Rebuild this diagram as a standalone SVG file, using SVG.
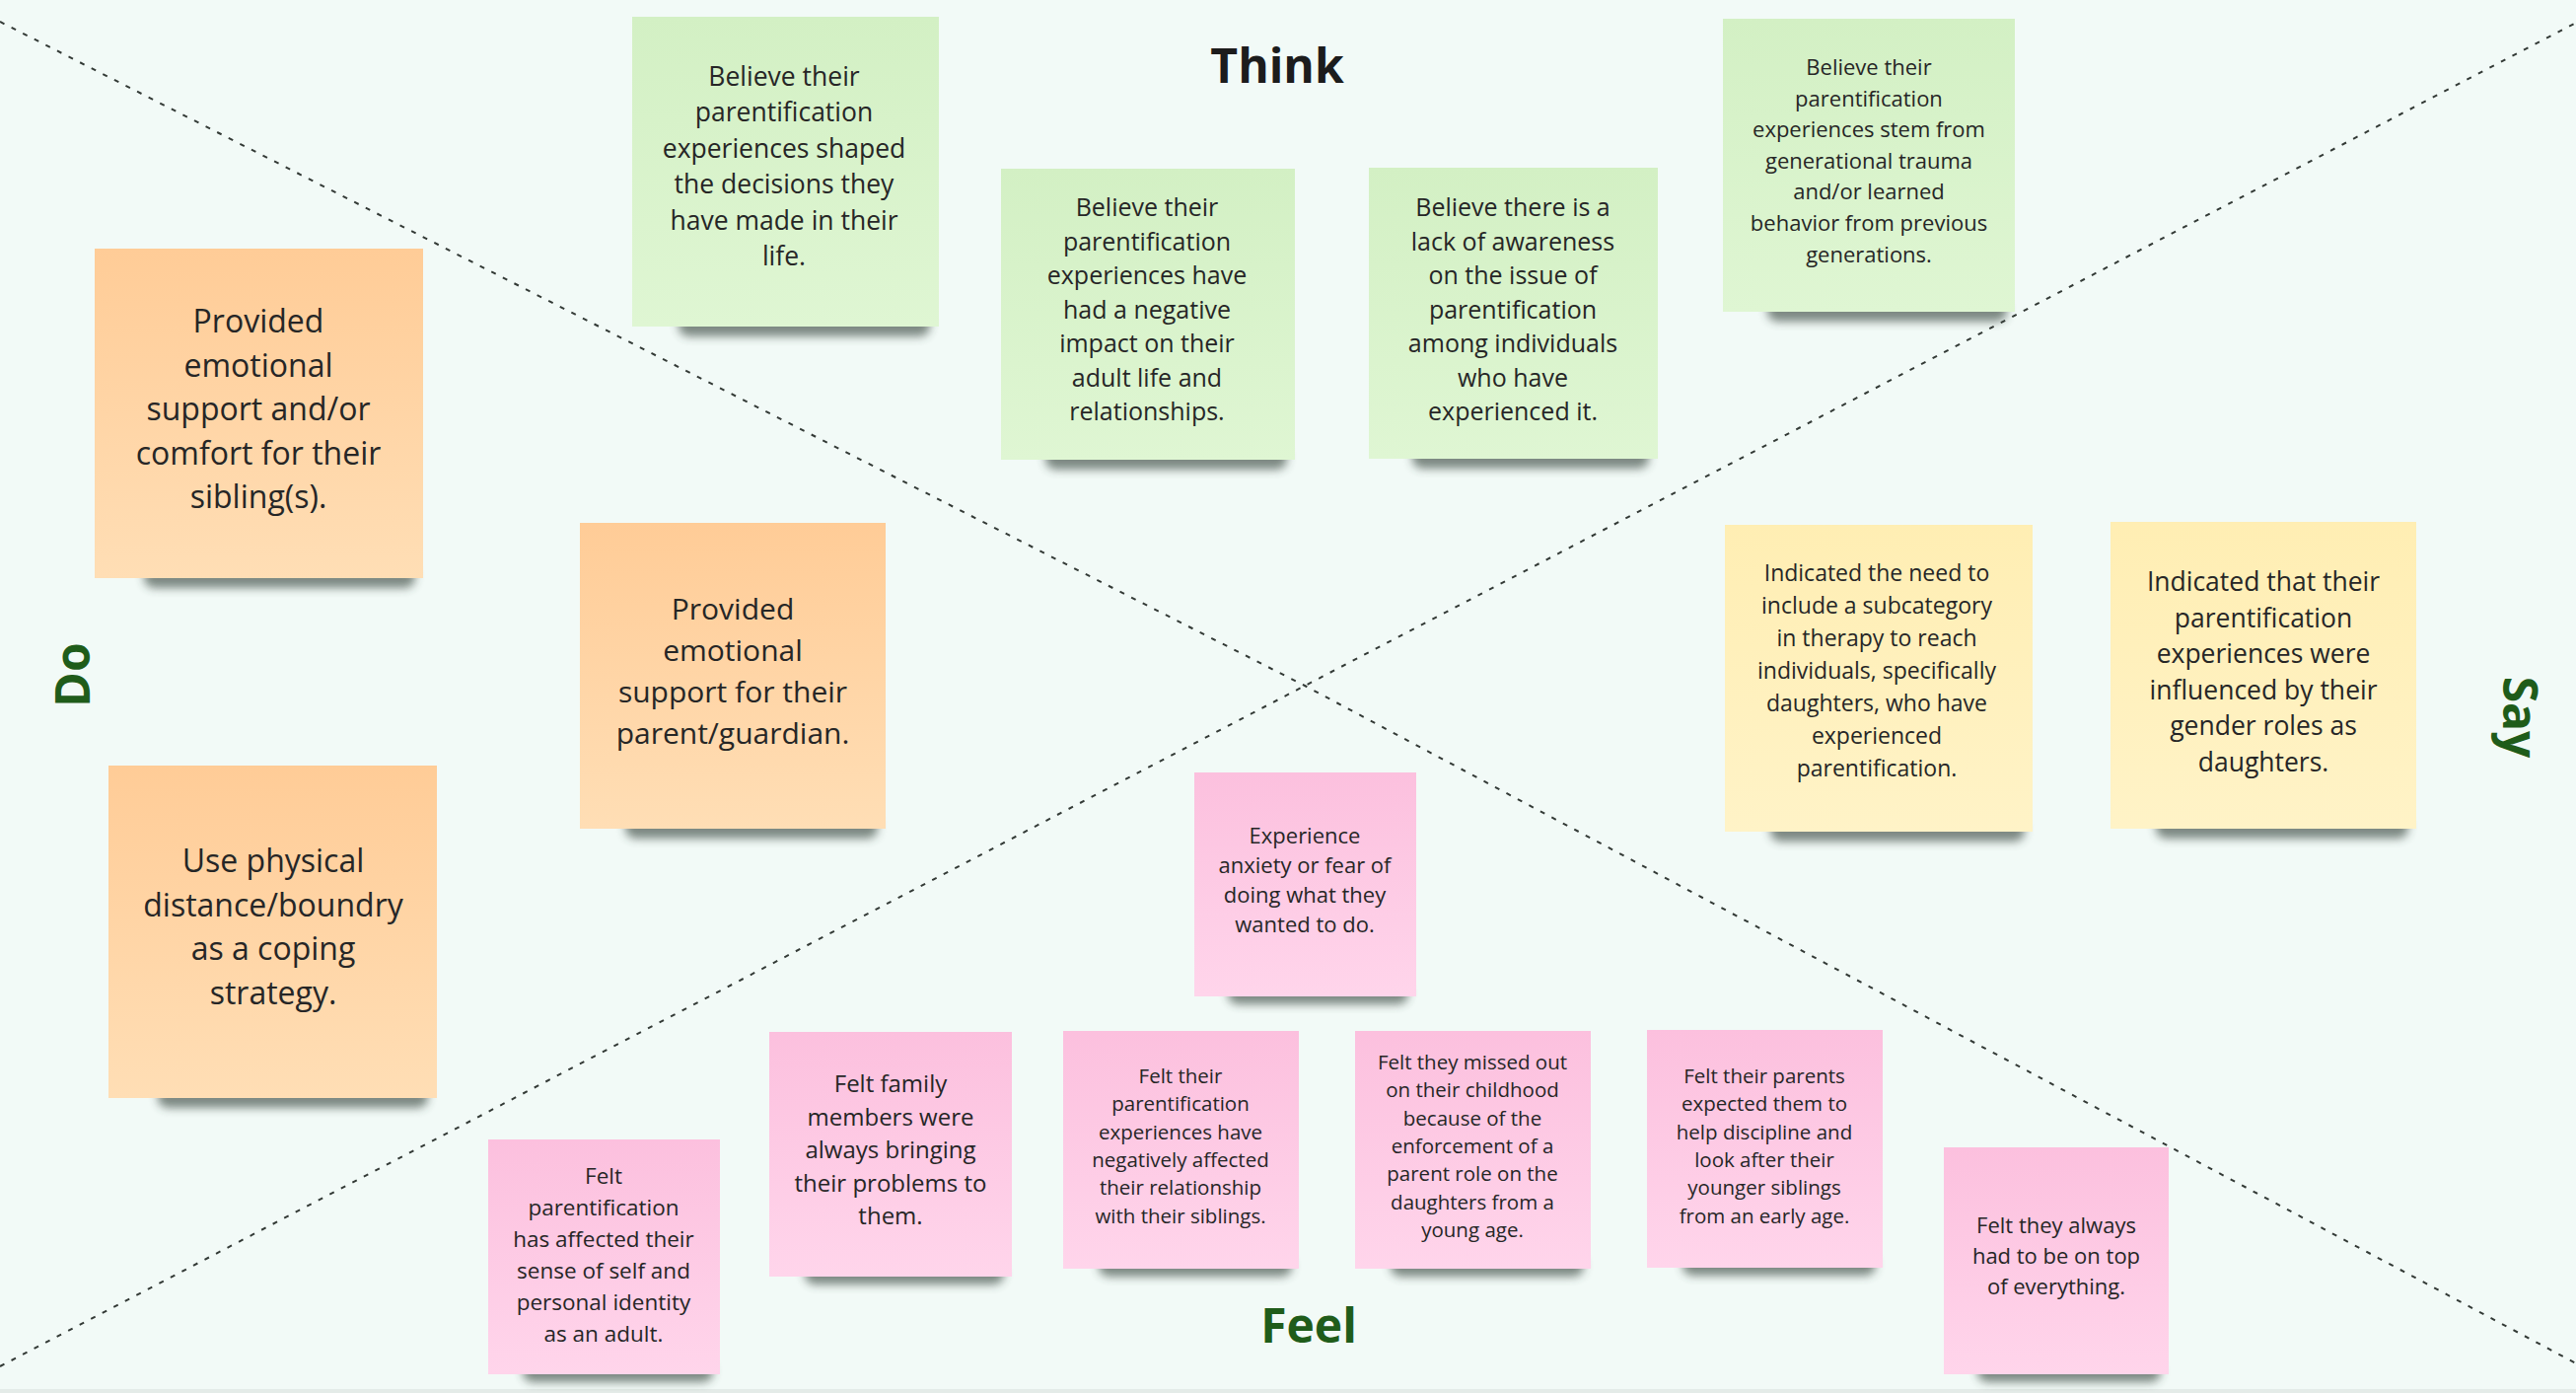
<svg xmlns="http://www.w3.org/2000/svg" width="2612" height="1412" viewBox="0 0 2612 1412">
<defs>
<linearGradient id="gGreen" x1="0" y1="0" x2="0" y2="1"><stop offset="0" stop-color="#d3f0c4"/><stop offset="1" stop-color="#dff6d3"/></linearGradient>
<linearGradient id="gOrange" x1="0" y1="0" x2="0" y2="1"><stop offset="0" stop-color="#ffcc97"/><stop offset="1" stop-color="#ffdeb5"/></linearGradient>
<linearGradient id="gYellow" x1="0" y1="0" x2="0" y2="1"><stop offset="0" stop-color="#ffeeb3"/><stop offset="1" stop-color="#fff3c7"/></linearGradient>
<linearGradient id="gPink" x1="0" y1="0" x2="0" y2="1"><stop offset="0" stop-color="#fcc0de"/><stop offset="1" stop-color="#ffd5eb"/></linearGradient>
<filter id="blur" x="-20%" y="-150%" width="140%" height="400%"><feGaussianBlur stdDeviation="5"/></filter>
</defs>
<style>
.bg{fill:#f2faf7}
.div{fill:none;stroke:#333a36;stroke-width:2;stroke-dasharray:5 8}
.sh{fill:#2f3d35;opacity:.6;filter:url(#blur)}
.green{fill:url(#gGreen)}
.orange{fill:url(#gOrange)}
.yellow{fill:url(#gYellow)}
.pink{fill:url(#gPink)}
.t{font-family:"Open Sans","Noto Sans","DejaVu Sans",sans-serif;fill:#262626;text-anchor:middle}
.title{font-family:"Open Sans","Noto Sans","DejaVu Sans",sans-serif;font-weight:700;font-size:48px;text-anchor:middle}
.dark{fill:#1c1c1c}
.gr{fill:#1f5c1a}
</style>
<rect class="bg" x="0" y="0" width="2612" height="1412"/>
<rect x="0" y="1408" width="2612" height="4" fill="#e4ebe8"/>

<g id="dividers">
<polyline class="div" points="0,22 1323,695 2612,1382"/>
<line class="div" x1="0" y1="1385" x2="2612" y2="23"/>
</g>

<g id="label-think"><text class="title dark" x="1295" y="84">Think</text></g>
<g id="label-feel"><text class="title gr" x="1327" y="1361">Feel</text></g>
<g id="label-do"><text class="title gr" transform="translate(91,684) rotate(-90)" x="0" y="0">Do</text></g>
<g id="label-say"><text class="title gr" transform="translate(2538,727) rotate(90)" x="0" y="0">Say</text></g>

<g id="think-1">
<rect class="sh" x="688" y="317" width="255" height="24" rx="10"/>
<rect class="green" x="641" y="17" width="311" height="314"/>
<text class="t" font-size="26.5"><tspan x="795" y="87">Believe their</tspan><tspan x="795" y="123.4">parentification</tspan><tspan x="795" y="159.8">experiences shaped</tspan><tspan x="795" y="196.2">the decisions they</tspan><tspan x="795" y="232.6">have made in their</tspan><tspan x="795" y="269">life.</tspan></text>
</g>

<g id="think-2">
<rect class="sh" x="1060" y="452" width="245" height="24" rx="10"/>
<rect class="green" x="1015" y="171" width="298" height="295"/>
<text class="t" font-size="25"><tspan x="1163" y="219">Believe their</tspan><tspan x="1163" y="253.5">parentification</tspan><tspan x="1163" y="288">experiences have</tspan><tspan x="1163" y="322.5">had a negative</tspan><tspan x="1163" y="357">impact on their</tspan><tspan x="1163" y="391.5">adult life and</tspan><tspan x="1163" y="426">relationships.</tspan></text>
</g>

<g id="think-3">
<rect class="sh" x="1432" y="451" width="240" height="24" rx="10"/>
<rect class="green" x="1388" y="170" width="293" height="295"/>
<text class="t" font-size="25"><tspan x="1534" y="219">Believe there is a</tspan><tspan x="1534" y="253.5">lack of awareness</tspan><tspan x="1534" y="288">on the issue of</tspan><tspan x="1534" y="322.5">parentification</tspan><tspan x="1534" y="357">among individuals</tspan><tspan x="1534" y="391.5">who have</tspan><tspan x="1534" y="426">experienced it.</tspan></text>
</g>

<g id="think-4">
<rect class="sh" x="1792" y="302" width="243" height="24" rx="10"/>
<rect class="green" x="1747" y="19" width="296" height="297"/>
<text class="t" font-size="22"><tspan x="1895" y="76">Believe their</tspan><tspan x="1895" y="107.6">parentification</tspan><tspan x="1895" y="139.2">experiences stem from</tspan><tspan x="1895" y="170.8">generational trauma</tspan><tspan x="1895" y="202.4">and/or learned</tspan><tspan x="1895" y="234">behavior from previous</tspan><tspan x="1895" y="265.6">generations.</tspan></text>
</g>

<g id="do-1">
<rect class="sh" x="146" y="572" width="275" height="24" rx="10"/>
<rect class="orange" x="96" y="252" width="333" height="334"/>
<text class="t" font-size="32"><tspan x="262" y="337">Provided</tspan><tspan x="262" y="381.6">emotional</tspan><tspan x="262" y="426.2">support and/or</tspan><tspan x="262" y="470.8">comfort for their</tspan><tspan x="262" y="515.4">sibling(s).</tspan></text>
</g>

<g id="do-2">
<rect class="sh" x="634" y="826" width="256" height="24" rx="10"/>
<rect class="orange" x="588" y="530" width="310" height="310"/>
<text class="t" font-size="30"><tspan x="743" y="628">Provided</tspan><tspan x="743" y="670">emotional</tspan><tspan x="743" y="712">support for their</tspan><tspan x="743" y="754">parent/guardian.</tspan></text>
</g>

<g id="do-3">
<rect class="sh" x="160" y="1099" width="274" height="24" rx="10"/>
<rect class="orange" x="110" y="776" width="333" height="337"/>
<text class="t" font-size="32"><tspan x="277" y="884">Use physical</tspan><tspan x="277" y="928.6">distance/boundry</tspan><tspan x="277" y="973.2">as a coping</tspan><tspan x="277" y="1017.8">strategy.</tspan></text>
</g>

<g id="say-1">
<rect class="sh" x="1795" y="829" width="258" height="24" rx="10"/>
<rect class="yellow" x="1749" y="532" width="312" height="311"/>
<text class="t" font-size="23"><tspan x="1903" y="588.5">Indicated the need to</tspan><tspan x="1903" y="621.5">include a subcategory</tspan><tspan x="1903" y="654.5">in therapy to reach</tspan><tspan x="1903" y="687.5">individuals, specifically</tspan><tspan x="1903" y="720.5">daughters, who have</tspan><tspan x="1903" y="753.5">experienced</tspan><tspan x="1903" y="786.5">parentification.</tspan></text>
</g>

<g id="say-2">
<rect class="sh" x="2186" y="826" width="256" height="24" rx="10"/>
<rect class="yellow" x="2140" y="529" width="310" height="311"/>
<text class="t" font-size="26.5"><tspan x="2295" y="599">Indicated that their</tspan><tspan x="2295" y="635.6">parentification</tspan><tspan x="2295" y="672.2">experiences were</tspan><tspan x="2295" y="708.8">influenced by their</tspan><tspan x="2295" y="745.4">gender roles as</tspan><tspan x="2295" y="782">daughters.</tspan></text>
</g>

<g id="feel-1">
<rect class="sh" x="1245" y="996" width="183" height="22" rx="10"/>
<rect class="pink" x="1211" y="783" width="225" height="227"/>
<text class="t" font-size="22"><tspan x="1323" y="855">Experience</tspan><tspan x="1323" y="885">anxiety or fear of</tspan><tspan x="1323" y="915">doing what they</tspan><tspan x="1323" y="945">wanted to do.</tspan></text>
</g>

<g id="feel-2">
<rect class="sh" x="816" y="1280" width="202" height="22" rx="10"/>
<rect class="pink" x="780" y="1046" width="246" height="248"/>
<text class="t" font-size="24"><tspan x="903" y="1107">Felt family</tspan><tspan x="903" y="1140.5">members were</tspan><tspan x="903" y="1174">always bringing</tspan><tspan x="903" y="1207.5">their problems to</tspan><tspan x="903" y="1241">them.</tspan></text>
</g>

<g id="feel-3">
<rect class="sh" x="1114" y="1272" width="196" height="22" rx="10"/>
<rect class="pink" x="1078" y="1045" width="239" height="241"/>
<text class="t" font-size="20.5"><tspan x="1197" y="1098">Felt their</tspan><tspan x="1197" y="1126.3">parentification</tspan><tspan x="1197" y="1154.6">experiences have</tspan><tspan x="1197" y="1182.9">negatively affected</tspan><tspan x="1197" y="1211.2">their relationship</tspan><tspan x="1197" y="1239.5">with their siblings.</tspan></text>
</g>

<g id="feel-4">
<rect class="sh" x="1410" y="1272" width="196" height="22" rx="10"/>
<rect class="pink" x="1374" y="1045" width="239" height="241"/>
<text class="t" font-size="20.5"><tspan x="1493" y="1084">Felt they missed out</tspan><tspan x="1493" y="1112.3">on their childhood</tspan><tspan x="1493" y="1140.6">because of the</tspan><tspan x="1493" y="1168.9">enforcement of a</tspan><tspan x="1493" y="1197.2">parent role on the</tspan><tspan x="1493" y="1225.5">daughters from a</tspan><tspan x="1493" y="1253.8">young age.</tspan></text>
</g>

<g id="feel-5">
<rect class="sh" x="1706" y="1271" width="196" height="22" rx="10"/>
<rect class="pink" x="1670" y="1044" width="239" height="241"/>
<text class="t" font-size="20.5"><tspan x="1789" y="1098">Felt their parents</tspan><tspan x="1789" y="1126.3">expected them to</tspan><tspan x="1789" y="1154.6">help discipline and</tspan><tspan x="1789" y="1182.9">look after their</tspan><tspan x="1789" y="1211.2">younger siblings</tspan><tspan x="1789" y="1239.5">from an early age.</tspan></text>
</g>

<g id="feel-6">
<rect class="sh" x="2005" y="1379" width="186" height="22" rx="10"/>
<rect class="pink" x="1971" y="1163" width="228" height="230"/>
<text class="t" font-size="22"><tspan x="2085" y="1250">Felt they always</tspan><tspan x="2085" y="1281">had to be on top</tspan><tspan x="2085" y="1312">of everything.</tspan></text>
</g>

<g id="feel-7">
<rect class="sh" x="530" y="1379" width="193" height="22" rx="10"/>
<rect class="pink" x="495" y="1155" width="235" height="238"/>
<text class="t" font-size="22.5"><tspan x="612" y="1200">Felt</tspan><tspan x="612" y="1232">parentification</tspan><tspan x="612" y="1264">has affected their</tspan><tspan x="612" y="1296">sense of self and</tspan><tspan x="612" y="1328">personal identity</tspan><tspan x="612" y="1360">as an adult.</tspan></text>
</g>
</svg>
